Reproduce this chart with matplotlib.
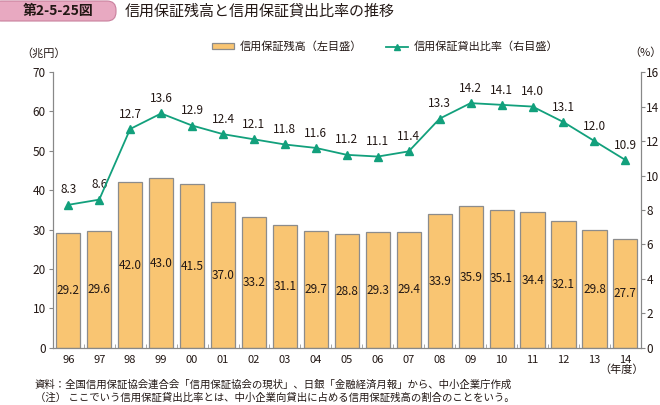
import matplotlib
matplotlib.use("Agg")
import matplotlib.pyplot as plt
from matplotlib.patches import FancyBboxPatch
from matplotlib.lines import Line2D
from matplotlib.patches import Patch

plt.rcParams['font.family'] = ['Noto Sans CJK JP', 'DejaVu Sans']

years = ["96", "97", "98", "99", "00", "01", "02", "03", "04", "05", "06", "07",
         "08", "09", "10", "11", "12", "13", "14"]
balance = [29.2, 29.6, 42.0, 43.0, 41.5, 37.0, 33.2, 31.1, 29.7, 28.8, 29.3, 29.4,
           33.9, 35.9, 35.1, 34.4, 32.1, 29.8, 27.7]
ratio = [8.3, 8.6, 12.7, 13.6, 12.9, 12.4, 12.1, 11.8, 11.6, 11.2, 11.1, 11.4,
         13.3, 14.2, 14.1, 14.0, 13.1, 12.0, 10.9]

bar_color = '#F9C572'
edge_color = '#8C8C8C'
line_color = '#12A07C'
text_color = '#231815'

fig = plt.figure(figsize=(6.6, 4.05), dpi=100)
ax = fig.add_axes([0.080, 0.141, 0.891, 0.681])
ax2 = ax.twinx()

x = list(range(len(years)))
ax.bar(x, balance, width=0.78, color=bar_color, edgecolor=edge_color, linewidth=0.9, zorder=2)
for xi, v in zip(x, balance):
    ax.text(xi, v / 2, f"{v:.1f}", ha='center', va='center', fontsize=8.5, color=text_color, zorder=3)

ax2.plot(x, ratio, color=line_color, lw=1.3, marker='^', ms=5.5, zorder=4)
for xi, v in zip(x, ratio):
    ax2.annotate(f"{v:.1f}", (xi, v), xytext=(0, 6), textcoords='offset points',
                 ha='center', va='bottom', fontsize=8.5, color=text_color)

ax.set_xlim(-0.5, len(years) - 0.5)
ax.set_ylim(0, 70)
ax2.set_ylim(0, 16)
ax.set_yticks(range(0, 71, 10))
ax2.set_yticks(range(0, 17, 2))
ax.set_xticks(x)
ax.set_xticklabels(years)
ax.set_xticks([i + 0.5 for i in x[:-1]], minor=True)
ax.tick_params(axis='x', which='major', length=0, labelsize=8, colors=text_color, pad=5)
ax.tick_params(axis='x', which='minor', length=3, direction='in', color='#999999')
ax.tick_params(axis='y', length=3, labelsize=8.5, colors=text_color, color='#888888', pad=2)
ax2.tick_params(axis='y', length=3, labelsize=8.5, colors=text_color, color='#888888', pad=1)

for a in (ax, ax2):
    a.spines['top'].set_visible(False)
    for s in ('left', 'right', 'bottom'):
        a.spines[s].set_color('#888888')
        a.spines[s].set_linewidth(0.8)

# Title banner (in inches so the corners are round)
fig.patches.append(FancyBboxPatch((-0.08, (405 - 21) / 100), 1.24, 0.20,
                                  boxstyle="round,pad=0,rounding_size=0.09",
                                  transform=fig.dpi_scale_trans, facecolor='#E8A9C1',
                                  edgecolor='#C9809D', linewidth=0.8))
fig.text(58 / 660, 1 - 11.5 / 405, "第2-5-25図", ha='center', va='center', fontsize=10,
         color=text_color, fontweight='bold')
fig.text(125 / 660, 1 - 12 / 405, "信用保証残高と信用保証貸出比率の推移", ha='left', va='center',
         fontsize=10.8, color=text_color)

# Legend
handles = [Patch(facecolor=bar_color, edgecolor=edge_color, linewidth=0.9),
           Line2D([0], [0], color=line_color, marker='^', ms=5, lw=1.3)]
fig.legend(handles, ["信用保証残高（左目盛）", "信用保証貸出比率（右目盛）"],
           loc='center', bbox_to_anchor=(385 / 660, 1 - 47 / 405), ncol=2, frameon=False,
           fontsize=8, handlelength=2.0, handleheight=0.45, handletextpad=0.5,
           columnspacing=2.2, labelcolor=text_color)

fig.text(44 / 660, 1 - 53 / 405, "（兆円）", ha='center', va='center', fontsize=8, color=text_color)
fig.text(645 / 660, 1 - 53 / 405, "（%）", ha='center', va='center', fontsize=8, color=text_color)
fig.text(622 / 660, 1 - 370 / 405, "（年度）", ha='center', va='center', fontsize=8, color=text_color)

fig.text(35 / 660, 1 - 385 / 405,
         "資料：全国信用保証協会連合会「信用保証協会の現状」、日銀「金融経済月報」から、中小企業庁作成",
         ha='left', va='center', fontsize=7.5, color=text_color)
fig.text(35 / 660, 1 - 398 / 405,
         "（注） ここでいう信用保証貸出比率とは、中小企業向貸出に占める信用保証残高の割合のことをいう。",
         ha='left', va='center', fontsize=7.5, color=text_color)

fig.savefig("out.png", dpi=100)
